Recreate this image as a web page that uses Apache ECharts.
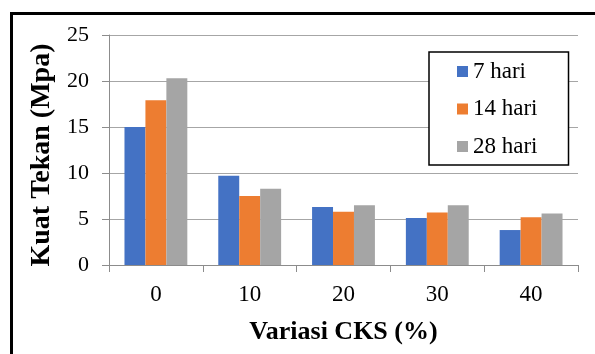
<!DOCTYPE html>
<html>
<head>
<meta charset="utf-8">
<script src="https://cdn.jsdelivr.net/npm/echarts@6/dist/echarts.min.js"></script>
<style>
html,body{margin:0;padding:0;background:#fff;}
#c{width:595px;height:354px;}
</style>
</head>
<body>
<div id="c"></div>
<script>
const categories = ['0', '10', '20', '30', '40'];
const seriesNames = ['7 hari', '14 hari', '28 hari'];
const hari7 = [15.0, 9.7, 6.3, 5.1, 3.8];
const hari14 = [17.9, 7.5, 5.8, 5.7, 5.2];
const hari28 = [20.3, 8.3, 6.5, 6.5, 5.6];
const colors = ['#4472C4', '#ED7D31', '#A5A5A5'];

const FONT = 'Liberation Serif';
const chart = echarts.init(document.getElementById('c'), null, {renderer: 'canvas'});
const values = [hari7, hari14, hari28];

chart.setOption({
  animation: false,
  backgroundColor: '#fff',
  color: colors,
  textStyle: {fontFamily: FONT},
  grid: {left: 109, right: 17, top: 35, bottom: 89, containLabel: false},
  legend: {
    orient: 'vertical',
    left: 429, top: 52,
    padding: [8, 31, 7, 28],
    itemGap: 14.5,
    itemWidth: 11, itemHeight: 11,
    icon: 'rect',
    backgroundColor: '#fff',
    borderColor: '#000',
    borderWidth: 1.5,
    textStyle: {fontFamily: FONT, fontSize: 23, color: '#000'},
    data: seriesNames
  },
  xAxis: {
    type: 'category',
    data: categories,
    name: 'Variasi CKS (%)',
    nameLocation: 'middle',
    nameGap: 54,
    nameTextStyle: {fontFamily: FONT, fontSize: 26, fontWeight: 'bold', color: '#000'},
    axisLine: {lineStyle: {color: '#8c8c8c', width: 1}},
    axisTick: {show: true, length: 7, lineStyle: {color: '#8c8c8c'}},
    axisLabel: {fontFamily: FONT, fontSize: 23, color: '#000', margin: 18}
  },
  yAxis: {
    type: 'value',
    min: 0, max: 25, interval: 5,
    name: 'Kuat Tekan (Mpa)',
    nameLocation: 'middle',
    nameGap: 52,
    nameTextStyle: {fontFamily: FONT, fontSize: 28, fontWeight: 'bold', color: '#000', padding: [0, 0, 0, -10]},
    axisLine: {show: true, lineStyle: {color: '#8c8c8c', width: 1}},
    axisTick: {show: true, length: 7, lineStyle: {color: '#8c8c8c'}},
    splitLine: {lineStyle: {color: '#a6a6a6', width: 1}},
    axisLabel: {fontFamily: FONT, fontSize: 22, color: '#000', margin: 20}
  },
  series: seriesNames.map((n, i) => ({
    name: n,
    type: 'bar',
    data: values[i],
    barGap: '0%',
    barCategoryGap: '33%',
    itemStyle: {color: colors[i]}
  })),
  graphic: [{
    type: 'polyline',
    silent: true,
    shape: {points: [[11.5, 354], [11.5, 13.5], [595, 13.5]]},
    style: {stroke: '#000', lineWidth: 3, fill: null}
  }]
});
</script>
</body>
</html>
